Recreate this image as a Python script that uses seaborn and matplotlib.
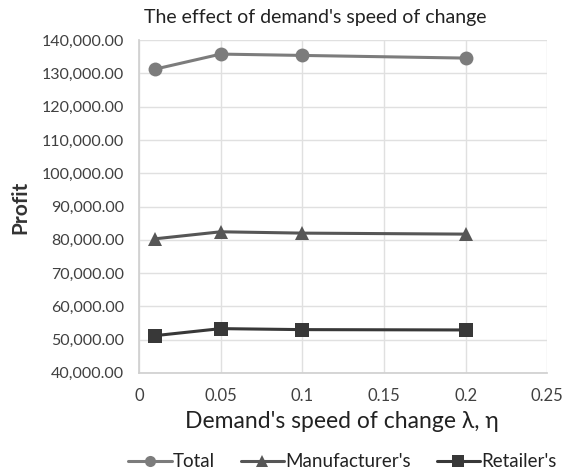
import matplotlib
matplotlib.use("Agg")
import matplotlib.pyplot as plt
import seaborn as sns
import pandas as pd
from matplotlib.ticker import FuncFormatter, MultipleLocator

speed = [0.01, 0.05, 0.1, 0.2]
total = [131300, 135800, 135400, 134600]
manufacturer = [80300, 82400, 82000, 81700]
retailer = [51200, 53300, 53000, 52900]
series_names = ["Total", "Manufacturer's", "Retailer's"]

rows = []
for name, vals in zip(series_names, [total, manufacturer, retailer]):
    for x, v in zip(speed, vals):
        rows.append({"speed": x, "profit": v, "series": name})
df = pd.DataFrame(rows)

sns.set_theme(style="white")
plt.rcParams["font.family"] = ["Lato", "DejaVu Sans"]

fig = plt.figure(figsize=(5.63, 4.72), dpi=100)
ax = fig.add_axes([0.247, 0.21, 0.725, 0.705])

palette = {"Total": "#7c7c7c", "Manufacturer's": "#565656", "Retailer's": "#383838"}
markers = {"Total": "o", "Manufacturer's": "^", "Retailer's": "s"}
sns.lineplot(data=df, x="speed", y="profit", hue="series", style="series",
             palette=palette, markers=markers, dashes=False, markersize=10,
             linewidth=2.2, markeredgewidth=0, ax=ax, legend=False)

ax.set_xlim(0, 0.25)
ax.set_ylim(40000, 140000)
ax.xaxis.set_major_locator(MultipleLocator(0.05))
ax.yaxis.set_major_locator(MultipleLocator(10000))
ax.xaxis.set_major_formatter(FuncFormatter(lambda v, p: f"{v:g}"))
ax.yaxis.set_major_formatter(FuncFormatter(lambda v, p: f"{v:,.2f}"))
ax.grid(True, color="#e0e0e0", linewidth=1)
for s in ["top", "right"]:
    ax.spines[s].set_visible(False)
for s in ["left", "bottom"]:
    ax.spines[s].set_color("#d0d0d0")
ax.tick_params(axis="y", length=0, labelsize=11.5, colors="#404040", pad=11)
ax.tick_params(axis="x", length=0, labelsize=12, colors="#404040", pad=11)
ax.set_xlabel("")
ax.set_ylabel("")

fig.text(0.56, 0.962, "The effect of demand's speed of change", ha="center",
         va="center", fontsize=14, color="#222222")
fig.text(0.037, 0.56, "Profit", rotation=90, ha="center", va="center",
         fontsize=15, fontweight="bold", color="#333333")
fig.text(0.608, 0.108, "Demand's speed of change λ, η", ha="center",
         va="center", fontsize=16.5, color="#222222")

handles = [plt.Line2D([], [], color=palette[n], marker=markers[n], markersize=8,
                      linewidth=2.2, markeredgewidth=0) for n in series_names]
fig.legend(handles, series_names, loc="center", bbox_to_anchor=(0.608, 0.022),
           ncol=3, frameon=False, fontsize=13.5, handlelength=2.3,
           columnspacing=1.4, handletextpad=0.05, labelcolor="#222222",
           borderpad=0.2)

fig.savefig("out.png", dpi=100)
